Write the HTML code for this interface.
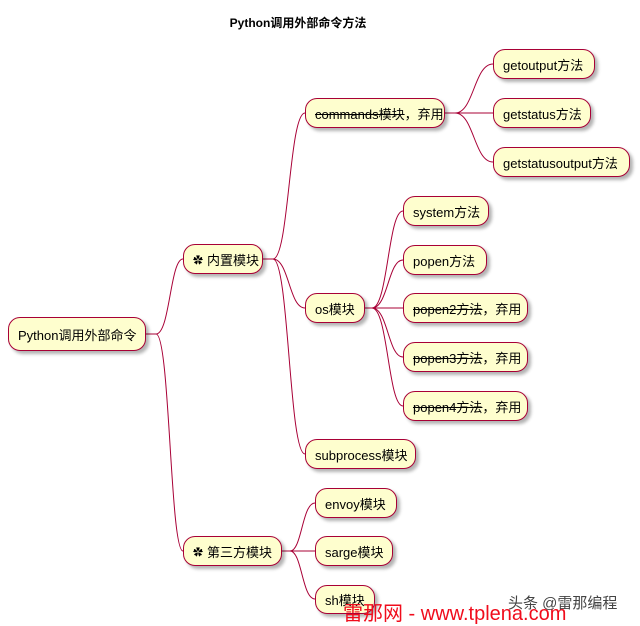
<!DOCTYPE html>
<html><head><meta charset="utf-8"><style>
body{margin:0;background:#fff;width:640px;height:624px;position:relative;overflow:hidden;font-family:"Liberation Sans","Noto Sans CJK SC",sans-serif}
.n{position:absolute;box-sizing:border-box;background:#FEFECE;border:1.5px solid #A80036;border-radius:12px;font-size:13px;color:#000;display:flex;align-items:center;padding-left:9px;box-shadow:3px 3px 3px rgba(0,0,0,0.3);white-space:nowrap}
s{text-decoration:line-through}
.i{font-size:10px;margin-right:4px}
.t{position:absolute;left:0;width:596px;top:14px;text-align:center;font-weight:bold;font-size:12px}
svg{position:absolute;left:0;top:0}
</style></head><body>
<div class="t">Python调用外部命令方法</div>
<svg width="640" height="624" fill="none" stroke="#A80036" stroke-width="1">
<path d="M146,334 L156,334 C170,334 170,259 183,259"/>
<path d="M146,334 L156,334 C170,334 170,551 183,551"/>
<path d="M263,259 L273,259 C289,259 289,113 305,113"/>
<path d="M263,259 L273,259 C289,259 289,308 305,308"/>
<path d="M263,259 L273,259 C289,259 289,454 305,454"/>
<path d="M445,113 L455,113 C474,113 474,64 493,64"/>
<path d="M445,113 L493,113"/>
<path d="M445,113 L455,113 C474,113 474,162 493,162"/>
<path d="M365,308 L372,308 C388,308 388,211 403,211"/>
<path d="M365,308 L372,308 C388,308 388,260 403,260"/>
<path d="M365,308 L403,308"/>
<path d="M365,308 L372,308 C388,308 388,357 403,357"/>
<path d="M365,308 L372,308 C388,308 388,406 403,406"/>
<path d="M282,551 L290,551 C302,551 302,503 315,503"/>
<path d="M282,551 L315,551"/>
<path d="M282,551 L290,551 C302,551 302,599 315,599"/>
</svg>
<div class="n" style="left:8px;top:317px;width:138px;height:34px">Python调用外部命令</div>
<div class="n" style="left:183px;top:244px;width:80px;height:30px"><span class="i">✿</span>内置模块</div>
<div class="n" style="left:183px;top:536px;width:99px;height:30px"><span class="i">✿</span>第三方模块</div>
<div class="n" style="left:305px;top:98px;width:140px;height:30px"><s>commands模块</s>，弃用</div>
<div class="n" style="left:493px;top:49px;width:102px;height:30px">getoutput方法</div>
<div class="n" style="left:493px;top:98px;width:98px;height:30px">getstatus方法</div>
<div class="n" style="left:493px;top:147px;width:137px;height:30px">getstatusoutput方法</div>
<div class="n" style="left:305px;top:293px;width:60px;height:30px">os模块</div>
<div class="n" style="left:403px;top:196px;width:86px;height:30px">system方法</div>
<div class="n" style="left:403px;top:245px;width:84px;height:30px">popen方法</div>
<div class="n" style="left:403px;top:293px;width:125px;height:30px"><s>popen2方法</s>，弃用</div>
<div class="n" style="left:403px;top:342px;width:125px;height:30px"><s>popen3方法</s>，弃用</div>
<div class="n" style="left:403px;top:391px;width:125px;height:30px"><s>popen4方法</s>，弃用</div>
<div class="n" style="left:305px;top:439px;width:111px;height:30px">subprocess模块</div>
<div class="n" style="left:315px;top:488px;width:82px;height:30px">envoy模块</div>
<div class="n" style="left:315px;top:536px;width:78px;height:30px">sarge模块</div>
<div class="n" style="left:315px;top:585px;width:60px;height:29px">sh模块</div>
<div style="position:absolute;left:343px;top:597px;font-size:20px;color:#f00c1c;white-space:nowrap">雷那网 - www.tplena.com</div>
<div style="position:absolute;left:508px;top:592px;font-size:15px;color:#444;white-space:nowrap">头条 @雷那编程</div>
</body></html>
